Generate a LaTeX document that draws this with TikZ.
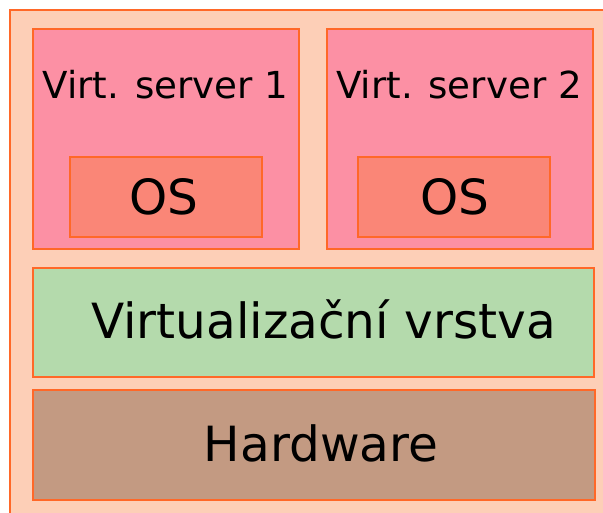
\documentclass[tikz,border=0pt]{standalone}
\usepackage{fontspec}
\setmainfont{DejaVu Sans}
\definecolor{peach}{RGB}{253,207,183}
\definecolor{pinkvs}{RGB}{252,144,164}
\definecolor{salmon}{RGB}{250,134,119}
\definecolor{greenl}{RGB}{180,218,172}
\definecolor{brownhw}{RGB}{195,154,130}
\definecolor{edge}{RGB}{255,104,40}
\tikzset{
  box/.style={draw=edge, line width=1.4pt, inner sep=0pt, outer sep=0pt},
  lbl/.style={anchor=base, inner sep=0pt, text=black},
}
\begin{document}
\begin{tikzpicture}[x=1pt,y=-1pt]
\useasboundingbox (0,0) rectangle (603,513);
\clip (0,0) rectangle (603,513);
\node[box, fill=peach, anchor=north west, minimum width=620pt, minimum height=530pt] (outer) at (10,10) {};
\node[box, fill=pinkvs, anchor=north west, minimum width=266pt, minimum height=220pt] (vs1) at (33,29) {};
\node[box, fill=pinkvs, anchor=north west, minimum width=266pt, minimum height=220pt] (vs2) at (327,29) {};
\node[box, fill=salmon, anchor=north west, minimum width=192pt, minimum height=80pt] (os1) at (70,157) {};
\node[box, fill=salmon, anchor=north west, minimum width=192pt, minimum height=80pt] (os2) at (358,157) {};
\node[box, fill=greenl, anchor=north west, minimum width=561pt, minimum height=109pt] (virt) at (33,268) {};
\node[box, fill=brownhw, anchor=north west, minimum width=562pt, minimum height=110pt] (hw) at (33,390) {};
\node[lbl, font=\fontsize{37.2}{40}\selectfont] (t1) at (165.5,98.5) {Virt. server 1};
\node[lbl, font=\fontsize{37.2}{40}\selectfont] (t2) at (459,98.5) {Virt. server 2};
\node[lbl, font=\fontsize{48.5}{52}\selectfont] (o1) at (163.5,215) {OS};
\node[lbl, font=\fontsize{48.5}{52}\selectfont] (o2) at (454.5,215) {OS};
\node[lbl, font=\fontsize{48.5}{52}\selectfont] (tv) at (323.4,338.7) {Virtualizační vrstva};
\node[lbl, font=\fontsize{48.5}{52}\selectfont] (th) at (321,461.7) {Hardware};
\end{tikzpicture}
\end{document}
